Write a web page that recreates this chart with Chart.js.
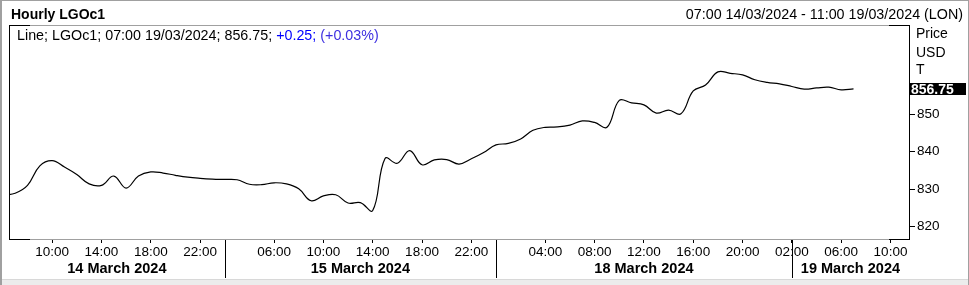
<!DOCTYPE html>
<html>
<head>
<meta charset="utf-8">
<script src="https://cdn.jsdelivr.net/npm/chart.js@4.4.1/dist/chart.umd.min.js"></script>
<style>
  html, body { margin: 0; padding: 0; background: #fff; }
  #wrap { position: relative; width: 969px; height: 285px; overflow: hidden; font-family: 'Liberation Sans', Arial, sans-serif; color: #000; }
  #chart { position: absolute; left: 0; top: 0; }
  .txt { position: absolute; white-space: nowrap; line-height: 16px; font-size: 14px; }
  #title { left: 11px; top: 6px; font-weight: bold; }
  #range { right: 6px; top: 6px; font-size: 14.3px; }
  #legend { left: 17px; top: 27px; font-size: 14.3px; }
  .pos { color: #0000ff; }
  .pct { color: #3d2fe0; }
  .unit { left: 916px; }
  #edgeTop { position: absolute; left: 0; top: 0; width: 969px; height: 1px; background: #a0a0a0; }
  #edgeLeft { position: absolute; left: 0; top: 0; width: 2px; height: 285px; background: #a0a0a0; }
  #edgeRight { position: absolute; right: 0; top: 0; width: 1px; height: 285px; background: #a0a0a0; }
  #strip { position: absolute; left: 0; top: 279px; width: 969px; height: 6px; background: #ececec; border-top: 1px solid #d8d8d8; }
</style>
</head>
<body>
<div id="wrap">
  <canvas id="chart" width="969" height="285"></canvas>
  <div id="strip"></div>
  <div id="edgeTop"></div>
  <div id="edgeLeft"></div>
  <div id="edgeRight"></div>
  <div class="txt" id="title">Hourly LGOc1</div>
  <div class="txt" id="range">07:00 14/03/2024 - 11:00 19/03/2024 (LON)</div>
  <div class="txt" id="legend">Line; LGOc1; 07:00 19/03/2024; 856.75; <span class="pos">+0.25;</span> <span class="pct">(+0.03%)</span></div>
  <div class="txt unit" style="top:25px">Price</div>
  <div class="txt unit" style="top:44px">USD</div>
  <div class="txt unit" style="top:61px">T</div>
</div>
<script>
// hourly closes, trading hours only; first value is the bar before 07:00 14/03
const firstIndex = -1;
const prices = [
  828.4, 828.9, 831.0, 836.2, 837.6, 835.9, 833.9, 831.4, 831.0, 833.5,
  830.3, 833.5, 834.6, 834.3, 833.7, 833.2, 832.9, 832.7, 832.6, 832.5,
  831.3, 831.2, 831.7, 831.4, 830.1, 826.9, 828.2, 828.5, 826.3, 826.4,
  824.3, 838.2, 836.9, 840.3, 836.5, 837.8, 837.9, 836.7, 838.1, 839.8,
  841.8, 842.2, 843.4, 845.7, 846.5, 846.6, 847.1, 848.2, 847.8, 846.5,
  853.7, 853.0, 852.5, 850.3, 851.1, 850.1, 856.2, 857.8, 861.3, 860.9,
  860.5, 859.2, 858.5, 858.1, 857.4, 856.7, 857.0, 857.2, 856.5, 856.75
];

// x axis runs over trading-hour slots, 07:00 14/03 = 0 ... 11:00 19/03 = 72
const hourTickPos = [3, 7, 11, 15, 21, 25, 29, 33, 37, 43, 47, 51, 55, 59, 63, 67, 71];
const hourTickLabels = ['10:00', '14:00', '18:00', '22:00', '06:00', '10:00', '14:00', '18:00', '22:00',
  '04:00', '08:00', '12:00', '16:00', '20:00', '02:00', '06:00', '10:00'];
const dayBounds = [17, 39, 63];
const dayLabels = ['14 March 2024', '15 March 2024', '18 March 2024', '19 March 2024'];
const yTicks = [820, 830, 840, 850];

const xMin = -0.5, xMax = 72.5;
const lastPrice = prices[prices.length - 1];

const edges = [xMin, ...dayBounds, xMax];
const dayCenters = dayLabels.map((_, i) => (edges[i] + edges[i + 1]) / 2);

const points = prices.map((v, i) => ({ x: firstIndex + i, y: v }));

const FONT = "'Liberation Sans', Arial, sans-serif";

const framePlugin = {
  id: 'frame',
  afterDraw(chart) {
    const { ctx, chartArea: a, scales } = chart;
    const l = Math.round(a.left), r = Math.round(a.right), t = Math.round(a.top), b = Math.round(a.bottom);
    ctx.save();
    ctx.fillStyle = '#a0a0a0';
    ctx.fillRect(l, t, r - l, 1);
    ctx.fillRect(l, b, r - l, 1);
    ctx.fillStyle = '#000';
    ctx.fillRect(l, t, 1, b - t + 1);
    ctx.fillRect(r, t, 1, b - t + 1);
    ctx.fillRect(l, t, 21, 1);
    ctx.fillRect(r - 20, t, 21, 1);
    ctx.fillRect(l, b, 21, 1);
    ctx.fillRect(r - 20, b, 21, 1);

    // day separators below the axis
    dayBounds.forEach(v => {
      const x = Math.round(scales.x.getPixelForValue(v));
      ctx.fillRect(x, b + 1, 1, 38);
    });

    // last price box
    const y = Math.round(scales.y.getPixelForValue(lastPrice));
    ctx.fillRect(r + 1, y - 6, 56, 12);
    ctx.fillStyle = '#fff';
    ctx.font = 'bold 14px ' + FONT;
    ctx.textBaseline = 'middle';
    ctx.textAlign = 'left';
    ctx.fillText(lastPrice.toFixed(2), r + 2, y + 1);
    ctx.restore();
  }
};

new Chart(document.getElementById('chart'), {
  type: 'line',
  data: {
    datasets: [{
      label: 'LGOc1',
      data: points,
      borderColor: '#000',
      borderWidth: 1.2,
      pointRadius: 0,
      tension: 0.4,
      fill: false
    }]
  },
  options: {
    responsive: false,
    devicePixelRatio: 1,
    animation: false,
    layout: { padding: { left: 9, top: 25, right: 0, bottom: 0 } },
    plugins: { legend: { display: false }, tooltip: { enabled: false } },
    scales: {
      x: {
        type: 'linear',
        position: 'bottom',
        min: xMin,
        max: xMax,
        afterBuildTicks: s => { s.ticks = hourTickPos.map(v => ({ value: v })); },
        afterFit: s => { s.height = 20; },
        ticks: {
          autoSkip: false,
          maxRotation: 0,
          padding: 1,
          color: '#000',
          font: { family: FONT, size: 13.5 },
          callback: v => hourTickLabels[hourTickPos.indexOf(v)]
        },
        grid: { drawOnChartArea: false, tickLength: 4, color: '#000' },
        border: { display: false }
      },
      x2: {
        type: 'linear',
        position: 'bottom',
        min: xMin,
        max: xMax,
        afterBuildTicks: s => { s.ticks = dayCenters.map(v => ({ value: v })); },
        afterFit: s => { s.height = 26; },
        ticks: {
          autoSkip: false,
          maxRotation: 0,
          padding: 1,
          color: '#000',
          font: { family: FONT, size: 14.5, weight: 'bold' },
          callback: v => dayLabels[dayCenters.indexOf(v)]
        },
        grid: { display: false, drawTicks: false },
        border: { display: false }
      },
      y: {
        position: 'right',
        min: 816.7,
        max: 873.8,
        afterBuildTicks: s => { s.ticks = yTicks.map(v => ({ value: v })); },
        afterFit: s => { s.width = 60; },
        ticks: {
          padding: 2,
          color: '#000',
          font: { family: FONT, size: 13.5 }
        },
        grid: { drawOnChartArea: false, tickLength: 6, color: '#000' },
        border: { display: false }
      }
    }
  },
  plugins: [framePlugin]
});
</script>
</body>
</html>
